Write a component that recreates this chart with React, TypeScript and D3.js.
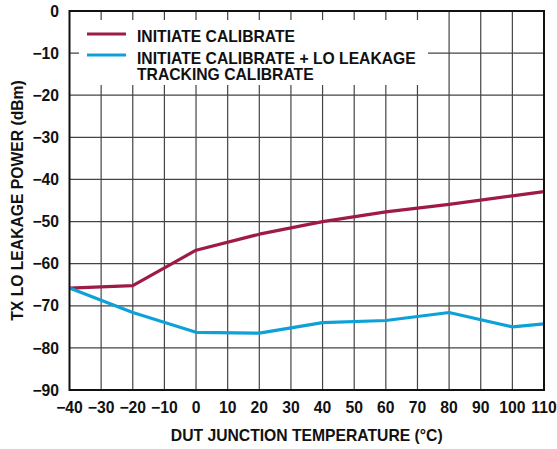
import React from "react";
import * as d3 from "d3";

const temps = [-40, -20, 0, 20, 40, 60, 80, 100, 110];
const initiateCal = [-65.8, -65.2, -56.8, -53.0, -50.0, -47.7, -45.9, -43.9, -42.9];
const trackingCal = [-65.8, -71.6, -76.3, -76.5, -74.0, -73.5, -71.6, -75.0, -74.3];
const xTicks = [-40, -30, -20, -10, 0, 10, 20, 30, 40, 50, 60, 70, 80, 90, 100, 110];
const yTicks = [0, -10, -20, -30, -40, -50, -60, -70, -80, -90];
const seriesNames = ["INITIATE CALIBRATE", "INITIATE CALIBRATE + LO LEAKAGE", "TRACKING CALIBRATE"];

const W = 557, H = 449;
const m = { left: 69.5, right: 544, top: 11, bottom: 390 };
const font = "'Liberation Sans', Arial, Helvetica, sans-serif";
const RED = "#9e1b47";
const BLUE = "#0ea1d8";
const FS = 15.7;

export default function App() {
  const x = d3.scaleLinear().domain([-40, 110]).range([m.left, m.right]);
  const y = d3.scaleLinear().domain([-90, 0]).range([m.bottom, m.top]);
  const line = d3.line<number>().x((_, i) => x(temps[i])).y((d) => y(d));
  const fmt = (v: number) => (v < 0 ? "\u2212" + Math.abs(v) : String(v));
  return (
    <svg width={W} height={H} style={{ position: "fixed", left: 0, top: 0, background: "#fff" }}
      fontFamily={font} fontWeight="bold">
      <rect x={0} y={0} width={W} height={H} fill="#fff" />
      {xTicks.slice(1, -1).map((t) => (
        <line key={"vx" + t} x1={x(t)} x2={x(t)} y1={m.top} y2={m.bottom} stroke="#444" strokeWidth={1.2} />
      ))}
      {yTicks.slice(1, -1).map((t) => (
        <line key={"hy" + t} x1={m.left} x2={m.right} y1={y(t)} y2={y(t)} stroke="#444" strokeWidth={1.2} />
      ))}
      <rect x={79} y={20} width={349} height={65} fill="#fff" />
      <path d={line(initiateCal) || ""} fill="none" stroke={RED} strokeWidth={3.2} strokeLinejoin="round" />
      <path d={line(trackingCal) || ""} fill="none" stroke={BLUE} strokeWidth={3.2} strokeLinejoin="round" />
      <rect x={m.left} y={m.top} width={m.right - m.left} height={m.bottom - m.top} fill="none" stroke="#111" strokeWidth={2} />
      {yTicks.map((t) => (
        <text key={"yl" + t} x={59} y={y(t)} dy="0.36em" textAnchor="end" fontSize={FS} fill="#111">{fmt(t)}</text>
      ))}
      {xTicks.map((t) => (
        <text key={"xl" + t} x={x(t)} y={413} textAnchor="middle" fontSize={FS} fill="#111">{fmt(t)}</text>
      ))}
      <text x={(m.left + m.right) / 2} y={441} textAnchor="middle" fontSize={FS} fill="#111">DUT JUNCTION TEMPERATURE (°C)</text>
      <text transform={`translate(23,${(m.top + m.bottom) / 2}) rotate(-90)`} textAnchor="middle" fontSize={FS} fill="#111">TX LO LEAKAGE POWER (dBm)</text>
      <line x1={87} x2={126} y1={34} y2={34} stroke={RED} strokeWidth={3.2} />
      <line x1={87} x2={126} y1={55} y2={55} stroke={BLUE} strokeWidth={3.2} />
      <text x={137} y={41.5} fontSize={FS} fill="#111">{seriesNames[0]}</text>
      <text x={137} y={63.5} fontSize={FS} fill="#111">{seriesNames[1]}</text>
      <text x={137} y={79.5} fontSize={FS} fill="#111">{seriesNames[2]}</text>
    </svg>
  );
}
